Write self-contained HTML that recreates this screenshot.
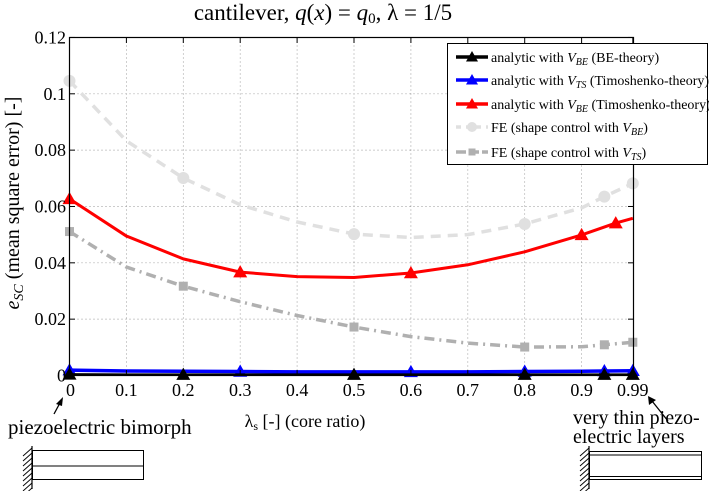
<!DOCTYPE html>
<html><head><meta charset="utf-8"><style>
html,body{margin:0;padding:0;background:#fff;}
svg{display:block;}
svg text{font-family:"Liberation Serif","DejaVu Serif",serif;}
</style></head><body>
<svg id="chart" width="709" height="491" viewBox="0 0 709 491" xmlns="http://www.w3.org/2000/svg" font-family="Liberation Serif, serif">
<text x="323" y="20" font-size="23" text-anchor="middle">cantilever, <tspan font-style="italic">q</tspan>(<tspan font-style="italic">x</tspan>) = <tspan font-style="italic">q</tspan><tspan font-size="15" dy="3">0</tspan><tspan dy="-3">, λ = 1/5</tspan></text>
<g id="grid"></g>
<g id="series"></g>
<rect x="69.5" y="37.5" width="564" height="338" fill="none" stroke="#000" stroke-width="1.2"/>
<g id="ticks"></g>
<text transform="translate(19,203) rotate(-90)" font-size="20" text-anchor="middle"><tspan font-style="italic">e</tspan><tspan font-style="italic" font-size="14" dy="4">SC</tspan><tspan dy="-4"> (mean square error) [-]</tspan></text>
<text x="305" y="427" font-size="18" text-anchor="middle">λ<tspan font-size="12" dy="3">s</tspan><tspan dy="-3"> [-] (core ratio)</tspan></text>
<text x="8" y="434" font-size="21">piezoelectric bimorph</text>
<line x1="54" y1="414" x2="61" y2="401" stroke="#000" stroke-width="1.3"/>
<polygon points="63,397 56,404 62,406" fill="#000"/>
<text x="573" y="424" font-size="20">very thin piezo-</text>
<text x="573" y="443" font-size="20">electric layers</text>
<line x1="668" y1="421" x2="652" y2="401" stroke="#000" stroke-width="1.3"/>
<polygon points="648,396 649,405 656,400" fill="#000"/>
<g stroke="#000" fill="none">
<line x1="32" y1="446" x2="32" y2="489" stroke-width="1.2"/>
<g id="hatchL"></g>
<rect x="32.5" y="450.5" width="111" height="29" stroke-width="1"/>
<line x1="32" y1="466" x2="144" y2="466" stroke-width="1"/>
</g>
<g stroke="#000" fill="none">
<line x1="589" y1="446" x2="589" y2="489" stroke-width="1.2"/>
<g id="hatchR"></g>
<rect x="589.5" y="451.5" width="112" height="28" stroke-width="1"/>
<line x1="589" y1="455" x2="702" y2="455" stroke-width="1"/>
<line x1="589" y1="476.5" x2="702" y2="476.5" stroke-width="1"/>
</g>
<g>
<rect x="447.5" y="43.5" width="260" height="121" fill="#fff" stroke="#000" stroke-width="1"/>
<g id="legend-items"></g>
</g>
</svg>
<script>
const xTicks=[0,0.1,0.2,0.3,0.4,0.5,0.6,0.7,0.8,0.9,0.99];
const xTickLabels=["0","0.1","0.2","0.3","0.4","0.5","0.6","0.7","0.8","0.9","0.99"];
const yTicks=[0,0.02,0.04,0.06,0.08,0.1,0.12];
const yTickLabels=["0","0.02","0.04","0.06","0.08","0.1","0.12"];
const lamBE=[0,0.1,0.2,0.3,0.4,0.5,0.6,0.7,0.8,0.9,0.94,0.99];
const valBE=[0.0004,0.0003,0.0003,0.0003,0.0003,0.0003,0.0003,0.0003,0.0003,0.0003,0.0003,0.0003];
const mkBE=[0,0.2,0.5,0.8,0.94,0.99];
const lamTS=[0,0.1,0.2,0.3,0.4,0.5,0.6,0.7,0.8,0.9,0.94,0.99];
const valTS=[0.0019,0.0016,0.0015,0.0014,0.0013,0.0013,0.0013,0.0013,0.0014,0.0015,0.0016,0.0017];
const mkTS=[0,0.3,0.6,0.8,0.94,0.99];
const lamBT=[0,0.1,0.2,0.3,0.4,0.5,0.6,0.7,0.8,0.9,0.96,0.99];
const valBT=[0.0627,0.0495,0.0414,0.0367,0.0351,0.0348,0.0364,0.0393,0.0439,0.0499,0.0541,0.0558];
const mkBT=[0,0.3,0.6,0.9,0.96];
const lamFB=[0,0.1,0.2,0.3,0.4,0.5,0.6,0.7,0.8,0.9,0.94,0.99];
const valFB=[0.1046,0.0833,0.0701,0.0606,0.0545,0.0502,0.0490,0.0500,0.0538,0.0595,0.0635,0.0682];
const mkFB=[0,0.2,0.5,0.8,0.94,0.99];
const lamFT=[0,0.1,0.2,0.3,0.4,0.5,0.6,0.7,0.8,0.9,0.94,0.99];
const valFT=[0.0511,0.0385,0.0317,0.0262,0.0213,0.0172,0.0138,0.0115,0.0101,0.0102,0.0109,0.0118];
const mkFT=[0,0.2,0.5,0.8,0.94,0.99];

const NS="http://www.w3.org/2000/svg";
const X0=69.5,XS=569,Y0=375.5,YS=2817;
function sx(v){return X0+v*XS;}
function sy(v){return Y0-v*YS;}
function mk(tag,attrs,parent){const e=document.createElementNS(NS,tag);for(const k in attrs)e.setAttribute(k,attrs[k]);parent.appendChild(e);return e;}
const grid=document.getElementById('grid'),ticks=document.getElementById('ticks');
xTicks.forEach((t,i)=>{
  if(i>0&&i<xTicks.length-1){const g=mk('line',{x1:sx(t),x2:sx(t),y1:37.5,y2:375.5,stroke:'#777','stroke-width':0.7,'stroke-dasharray':'1,3'},grid);
  
  }
  mk('line',{x1:sx(t),x2:sx(t),y1:375.5,y2:370,stroke:'#000'},ticks);
  mk('line',{x1:sx(t),x2:sx(t),y1:37.5,y2:43,stroke:'#000'},ticks);
  const tx=mk('text',{x:sx(t)+(i==0?1:0),y:396,'font-size':18,'text-anchor':'middle'},ticks);tx.textContent=xTickLabels[i];
  
  
});
yTicks.forEach((t,i)=>{
  if(i>0&&i<yTicks.length-1){const g=mk('line',{x1:69.5,x2:633.5,y1:sy(t),y2:sy(t),stroke:'#777','stroke-width':0.7,'stroke-dasharray':'1,3'},grid);
  
  }
  mk('line',{x1:69.5,x2:75,y1:sy(t),y2:sy(t),stroke:'#000'},ticks);
  mk('line',{x1:628,x2:633.5,y1:sy(t),y2:sy(t),stroke:'#000'},ticks);
  const tx=mk('text',{x:66,y:sy(t)+6,'font-size':18,'text-anchor':'end'},ticks);tx.textContent=yTickLabels[i];
  
  
});
function interp(lam,val,x){for(let i=0;i<lam.length-1;i++){if(x>=lam[i]&&x<=lam[i+1]){const f=(x-lam[i])/(lam[i+1]-lam[i]);return val[i]+f*(val[i+1]-val[i]);}}return val[val.length-1];}
function marker(type,cx,cy,color,s,parent){
  if(type==='tri') return mk('polygon',{points:`${cx},${cy-s} ${cx-s},${cy+s*0.75} ${cx+s},${cy+s*0.75}`,fill:color},parent);
  if(type==='circ') return mk('circle',{cx:cx,cy:cy,r:s,fill:color},parent);
  return mk('rect',{x:cx-s,y:cy-s,width:2*s,height:2*s,fill:color},parent);
}
const series=document.getElementById('series');
const defs=[
 {name:'fe-vts-series',lam:lamFT,val:valFT,mks:mkFT,color:'#b0b0b0',w:3.5,dash:'10,5,2,5',m:'sq',s:4.5},
 {name:'fe-vbe-series',lam:lamFB,val:valFB,mks:mkFB,color:'#e0e0e0',w:3.5,dash:'10,7',m:'circ',s:6},
 {name:'analytic-vbe-timoshenko-series',lam:lamBT,val:valBT,mks:mkBT,color:'#ff0000',w:3,dash:'',m:'tri',s:7},
 {name:'analytic-vts-series',lam:lamTS,val:valTS,mks:mkTS,color:'#0000ff',w:3.5,dash:'',m:'tri',s:7},
 {name:'analytic-vbe-be-series',lam:lamBE,val:valBE,mks:mkBE,color:'#000',w:2.5,dash:'',m:'tri',s:7}
];
defs.forEach(d=>{
  const g=mk('g',{},series);
  
  
  const pts=d.lam.map((l,i)=>sx(l)+','+sy(d.val[i])).join(' ');
  const pl=mk('polyline',{points:pts,fill:'none',stroke:d.color,'stroke-width':d.w,'stroke-dasharray':d.dash,'stroke-linejoin':'round'},g);
  
  
  d.mks.forEach(l=>{
    const v=interp(d.lam,d.val,l);
    const m=marker(d.m,sx(l),sy(v),d.color,d.s,g);
    
    
  });
});
const leg=document.getElementById('legend-items');
const legRows=[
 {y:57,color:'#000',m:'tri',dash:'',w:3.5,label:'analytic with <tspan font-style="italic">V</tspan><tspan font-style="italic" font-size="10" dy="3">BE</tspan><tspan dy="-3"> (BE-theory)</tspan>'},
 {y:80,color:'#0000ff',m:'tri',dash:'',w:3.5,label:'analytic with <tspan font-style="italic">V</tspan><tspan font-style="italic" font-size="10" dy="3">TS</tspan><tspan dy="-3"> (Timoshenko-theory)</tspan>'},
 {y:104,color:'#ff0000',m:'tri',dash:'',w:3.5,label:'analytic with <tspan font-style="italic">V</tspan><tspan font-style="italic" font-size="10" dy="3">BE</tspan><tspan dy="-3"> (Timoshenko-theory)</tspan>'},
 {y:127,color:'#e0e0e0',m:'circ',dash:'5,5',w:3.5,label:'FE (shape control with <tspan font-style="italic">V</tspan><tspan font-style="italic" font-size="10" dy="3">BE</tspan><tspan dy="-3">)</tspan>'},
 {y:152,color:'#b0b0b0',m:'sq',dash:'10,3',w:3.5,label:'FE (shape control with <tspan font-style="italic">V</tspan><tspan font-style="italic" font-size="10" dy="3">TS</tspan><tspan dy="-3">)</tspan>'}
];
legRows.forEach((r,i)=>{
  const g=mk('g',{},leg);
  
  
  mk('line',{x1:456,x2:488,y1:r.y,y2:r.y,stroke:r.color,'stroke-width':r.w,'stroke-dasharray':r.dash},g);
  marker(r.m,472,r.y,r.color,r.m==='tri'?6:(r.m==='circ'?5:3.5),g);
  const t=mk('text',{x:491,y:r.y+5,'font-size':14},g);t.innerHTML=r.label;
});
function hatch(id,x){const g=document.getElementById(id);for(let y=448;y<=490;y+=5){mk('line',{x1:x,y1:y,x2:x-9,y2:y+8,stroke:'#000','stroke-width':0.9},g);}}
hatch('hatchL',32);hatch('hatchR',589);
</script>
</body></html>
